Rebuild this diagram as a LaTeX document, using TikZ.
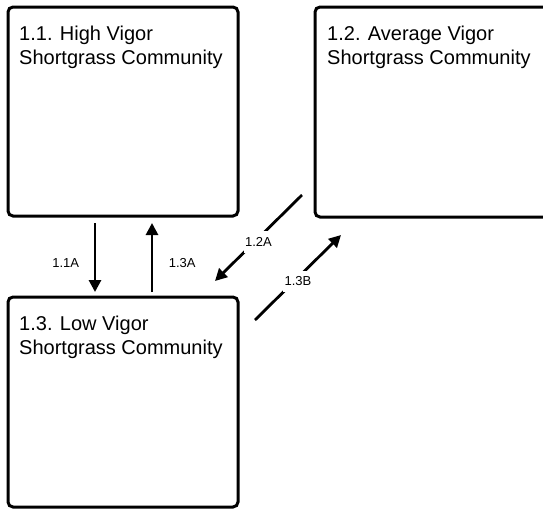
\documentclass[tikz,border=0pt]{standalone}
\usepackage{fontspec}
\setmainfont{Liberation Sans}
\usetikzlibrary{arrows.meta}
\begin{document}
\begin{tikzpicture}[x=1pt,y=-1pt,
  statebox/.style={draw=black, line width=3pt, rounded corners=5pt, fill=white,
    inner sep=0pt, outer sep=0pt, anchor=north west},
  statetext/.style={anchor=north west, align=left, inner sep=0pt,
    font=\fontsize{20}{24}\selectfont},
  arr/.style={line width=2.8pt, -{Triangle[length=12pt,width=12pt]}},
  lab/.style={font=\fontsize{13}{15}\selectfont, inner sep=1.5pt},
  cutlab/.style={lab, fill=white, inner xsep=1.5pt, inner ysep=6pt}]
\useasboundingbox (0,0) rectangle (543,509);

% community states
\node[statebox, minimum width=230pt, minimum height=209pt] (b11) at (8,7) {};
\node[statebox, minimum width=240pt, minimum height=210pt] (b12) at (315,7) {};
\node[statebox, minimum width=230pt, minimum height=210pt] (b13) at (8,297) {};

\node[statetext] (t11) at (19,26) {1.1. High Vigor\\Shortgrass Community};
\node[statetext] (t12) at (327,26) {1.2. Average Vigor\\Shortgrass Community};
\node[statetext] (t13) at (19,316) {1.3. Low Vigor\\Shortgrass Community};

% transitions between 1.1 and 1.3
\draw[arr] ([xshift=-28pt,yshift=-7pt]b11.south) -- ([xshift=-28pt,yshift=5pt]b13.north)
  node[lab, pos=0.58, left=13pt] (l11a) {1.1A};
\draw[arr] ([xshift=29pt,yshift=5pt]b13.north) -- ([xshift=29pt,yshift=-7pt]b11.south)
  node[lab, pos=0.42, right=14pt] (l13a) {1.3A};

% transitions between 1.2 and 1.3
\coordinate (p12s) at (302,195);
\coordinate (p12e) at (215,281);
\coordinate (p13s) at (255,320);
\coordinate (p13e) at (341,235);
\draw[arr] (p12s) -- (p12e) node[cutlab, pos=0.5, yshift=-4pt] (l12a) {1.2A};
\draw[arr] (p13s) -- (p13e) node[cutlab, pos=0.5, yshift=-4pt] (l13b) {1.3B};
\end{tikzpicture}
\end{document}
